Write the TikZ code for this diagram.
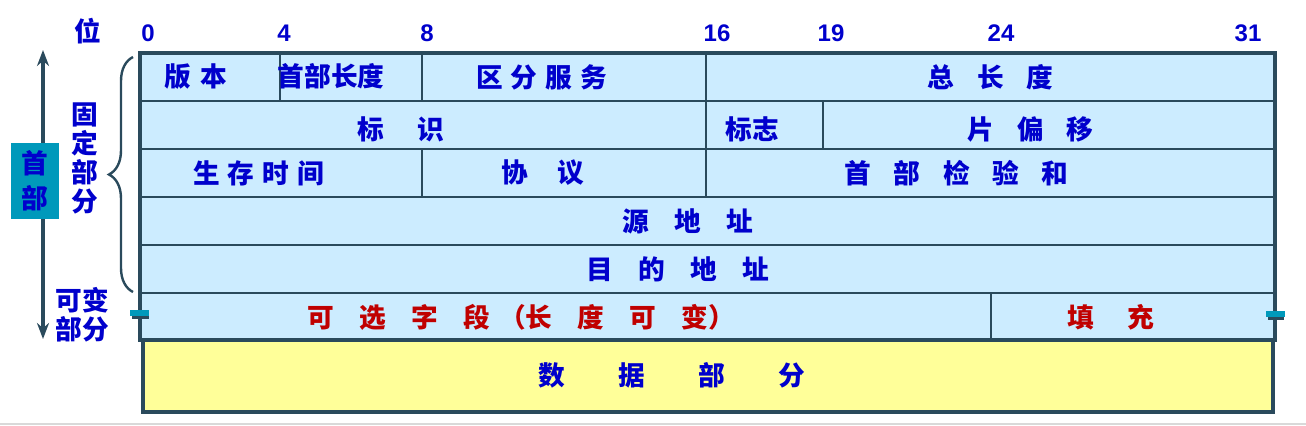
\documentclass[tikz,border=0pt]{standalone}
\usepackage{fontspec}
\setmainfont{Liberation Sans}
\newfontfamily\cjk{Noto Sans CJK SC}
\usetikzlibrary{arrows.meta,decorations.pathreplacing}
\definecolor{framec}{RGB}{42,74,92}
\definecolor{cellc}{RGB}{204,236,255}
\definecolor{padc}{RGB}{255,255,153}
\definecolor{txtc}{RGB}{0,0,204}
\definecolor{redc}{RGB}{192,0,0}
\definecolor{tealc}{RGB}{0,153,187}
\newcommand\fg[1]{\hspace{#1pt}}

\begin{document}
\begin{tikzpicture}[x=0.75pt,y=-0.75pt,
    field/.style ={font=\cjk\bfseries\fontsize{20}{24}\selectfont, text=txtc, inner sep=0pt},
    optfield/.style ={field, text=redc},
    sidetext/.style ={field, align=center, font=\cjk\bfseries\fontsize{20}{21.75}\selectfont},
    bitno/.style ={font=\bfseries\fontsize{18}{20}\selectfont, text=txtc, inner sep=0pt},
    sepline/.style ={framec, line width=1.1pt},
    outline/.style ={framec, line width=2.3pt}]
   \useasboundingbox (0,0) rectangle (1306,425);

   % header rows
   \fill[cellc] (140,53) rectangle (1275,340);
   \foreach \y in {101,149,197,245,293}
      \draw[sepline] (140,\y) -- (1277,\y);
   \draw[sepline] (280,53) -- (280,101);
   \draw[sepline] (422,53) -- (422,101);
   \draw[sepline] (706,53) -- (706,149);
   \draw[sepline] (823,101) -- (823,149);
   \draw[sepline] (422,149) -- (422,197);
   \draw[sepline] (706,149) -- (706,197);
   \draw[sepline] (991,293) -- (991,340);
   \draw[outline] (140,53) rectangle (1275,340);

   % data part
   \draw[outline, fill=padc] (143,340) rectangle (1273,412);
   \draw[gray!30, line width=1.5pt] (0,423.5) -- (1306,423.5);

   % small marks at the options row
   \fill[tealc] (130,310) rectangle (149,316);
   \fill[framec] (132,316) rectangle (149,319);
   \fill[tealc] (1266,311) rectangle (1285,317);
   \fill[framec] (1268,317) rectangle (1284,320);

   % bit numbers
   \node[field] (wei) at (88,31) {位};
   \node[bitno] (b0)  at (148,33)  {0};
   \node[bitno] (b4)  at (284,33)  {4};
   \node[bitno] (b8)  at (427,33)  {8};
   \node[bitno] (b16) at (717,33)  {16};
   \node[bitno] (b19) at (831,33)  {19};
   \node[bitno] (b24) at (1001,33) {24};
   \node[bitno] (b31) at (1248,33) {31};

   % fields
   \node[field] (ver)     at (195.5,77) {版\fg{7}本};
   \node[field] (ihl)     at (331,76)   {首部长度};
   \node[field] (tos)     at (541.5,77) {区\fg{6}分\fg{6}服\fg{6}务};
   \node[field] (totlen)  at (990.5,77) {总\fg{17}长\fg{17}度};
   \node[field] (ident)   at (400.5,129) {标\fg{25}识};
   \node[field] (flags)   at (752,129)  {标志};
   \node[field] (fragoff) at (1030.5,129) {片\fg{17}偏\fg{17}移};
   \node[field] (ttl)     at (258.5,173) {生\fg{6}存\fg{6}时\fg{6}间};
   \node[field] (proto)   at (542.5,173) {协\fg{22}议};
   \node[field] (hdrsum)  at (956.5,173) {首\fg{17}部\fg{17}检\fg{17}验\fg{17}和};
   \node[field] (srcaddr) at (688,221)  {源\fg{19}地\fg{19}址};
   \node[field] (dstaddr) at (677.5,269) {目\fg{19}的\fg{19}地\fg{19}址};
   \node[optfield, anchor=west] (options) at (307,317)
      {可\fg{19}选\fg{19}字\fg{19}段\fg{7}（长\fg{19}度\fg{19}可\fg{19}变）};
   \node[optfield] (padding) at (1111,317) {填\fg{25}充};
   \node[field] (payload) at (672,375)  {数\fg{40}据\fg{40}部\fg{40}分};

   % left side
   \coordinate (hdtop) at (43,50);
   \coordinate (hdbot) at (43,339);
   \draw[framec, line width=2.6pt, {Stealth[length=12pt,width=9pt]}-{Stealth[length=12pt,width=9pt]}] (hdtop) -- (hdbot);
   \node[sidetext, fill=tealc, minimum width=36pt, minimum height=57pt,
         font=\cjk\bfseries\fontsize{20}{26.6}\selectfont] (hdr) at (35,181) {首\\部};

   \coordinate (fixlo) at (133,292);
   \coordinate (fixhi) at (133,57);
   \draw[framec, line width=1.8pt, decorate, decoration={brace, amplitude=18pt}] (fixlo) -- (fixhi);
   \node[sidetext] (fixed) at (85,158)  {固\\定\\部\\分};
   \node[sidetext] (var)   at (82,314.5) {可变\\部分};
 \end{tikzpicture}
\end{document}
